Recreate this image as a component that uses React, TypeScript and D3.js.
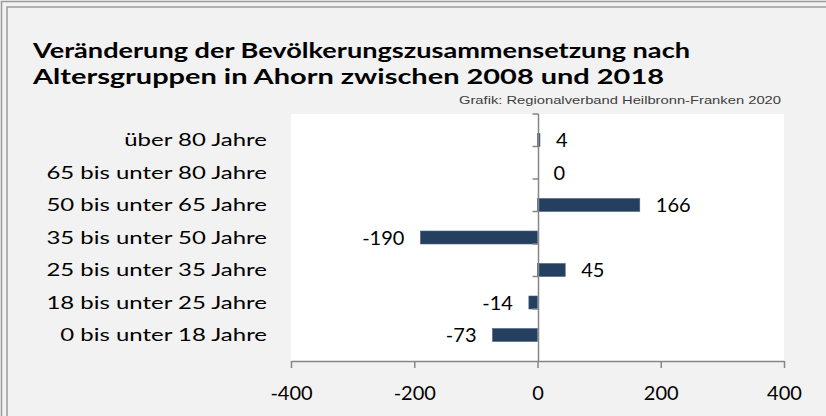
import React, { useEffect, useRef } from 'react';
import * as d3 from 'd3';

const categories = [
  'über 80 Jahre',
  '65 bis unter 80 Jahre',
  '50 bis unter 65 Jahre',
  '35 bis unter 50 Jahre',
  '25 bis unter 35 Jahre',
  '18 bis unter 25 Jahre',
  '0 bis unter 18 Jahre',
];
const changes = [4, 0, 166, -190, 45, -14, -73];
const xTicks = [-400, -200, 0, 200, 400];
const titleLines = [
  'Veränderung der Bevölkerungszusammensetzung nach',
  'Altersgruppen in Ahorn zwischen 2008 und 2018',
];
const credit = 'Grafik: Regionalverband Heilbronn-Franken 2020';

// the original export is stretched sideways, so text is widened to match
function widen(sel, k) {
  sel.each(function () {
    const w = this.getComputedTextLength();
    d3.select(this).attr('textLength', w * k).attr('lengthAdjust', 'spacingAndGlyphs');
  });
}

function App() {
  const svgRef = useRef<SVGSVGElement>(null);
  const width = 826;
  const height = 416;

  useEffect(() => {
    const svg = d3.select(svgRef.current);
    svg.selectAll('*').remove();

    const font = 'Lato, "Open Sans", sans-serif';
    const plot = { left: 291, right: 784, top: 114, bottom: 361 };

    // background + double frame on top/left
    svg.append('rect').attr('width', width).attr('height', height).attr('fill', '#f2f2f2');
    svg.append('path')
      .attr('d', `M1.5,${height} V1.5 H${width}`)
      .attr('fill', 'none').attr('stroke', '#9a9a9a').attr('stroke-width', 1.5);
    svg.append('path')
      .attr('d', `M7,${height} V7 H${width}`)
      .attr('fill', 'none').attr('stroke', '#9a9a9a').attr('stroke-width', 1.5);

    svg.append('rect')
      .attr('x', plot.left).attr('y', plot.top)
      .attr('width', plot.right - plot.left).attr('height', plot.bottom - plot.top)
      .attr('fill', '#ffffff');

    const x = d3.scaleLinear().domain([-400, 400]).range([plot.left, plot.right]);
    const y = d3.scaleBand().domain(categories).range([plot.top, plot.bottom]).padding(0.6);
    const step = y.step();

    // title
    const titleEnds = [690, 664];
    svg.append('g').selectAll('text')
      .data(titleLines)
      .enter().append('text')
      .attr('x', 33)
      .attr('y', (d, i) => 58 + i * 26)
      .attr('textLength', (d, i) => titleEnds[i] - 33)
      .attr('lengthAdjust', 'spacingAndGlyphs')
      .style('font-family', font)
      .style('font-weight', 'bold')
      .style('font-size', '21px')
      .attr('fill', '#000')
      .text(d => d);

    svg.append('text')
      .attr('x', 781).attr('y', 104)
      .attr('text-anchor', 'end')
      .style('font-family', '"Liberation Sans", Arial, sans-serif')
      .style('font-size', '11px')
      .attr('fill', '#404040')
      .text(credit)
      .call(widen, 1.34);

    // bars
    svg.append('g').selectAll('rect')
      .data(changes)
      .enter().append('rect')
      .attr('x', d => x(Math.min(0, d)))
      .attr('y', (d, i) => y(categories[i]))
      .attr('width', d => Math.abs(x(d) - x(0)))
      .attr('height', y.bandwidth())
      .attr('fill', '#243f60')
      .attr('stroke', '#4a6386')
      .attr('stroke-width', 0.6);

    // value labels
    svg.append('g').selectAll('text')
      .data(changes)
      .enter().append('text')
      .attr('x', d => (d < 0 ? x(d) - 16 : x(d) + 16))
      .attr('y', (d, i) => y(categories[i]) + y.bandwidth() / 2)
      .attr('dy', '0.36em')
      .attr('text-anchor', d => (d < 0 ? 'end' : 'start'))
      .style('font-family', font)
      .style('font-size', '20px')
      .attr('fill', '#000')
      .text(d => String(d));

    // category labels
    svg.append('g').selectAll('text')
      .data(categories)
      .enter().append('text')
      .attr('x', 267)
      .attr('y', d => y(d) + y.bandwidth() / 2)
      .attr('dy', '0.36em')
      .attr('text-anchor', 'end')
      .style('font-family', font)
      .style('font-size', '18px')
      .attr('fill', '#000')
      .text(d => d)
      .call(widen, 1.33);

    // vertical axis at 0 with ticks at band boundaries
    const axisColor = '#868686';
    const zero = Math.round(x(0)) + 0.5;
    svg.append('line')
      .attr('x1', zero).attr('x2', zero)
      .attr('y1', plot.top).attr('y2', plot.bottom)
      .attr('stroke', axisColor).attr('stroke-width', 1.5);
    svg.append('g').selectAll('line')
      .data(d3.range(categories.length))
      .enter().append('line')
      .attr('x1', zero - 6).attr('x2', zero)
      .attr('y1', i => plot.top + i * step)
      .attr('y2', i => plot.top + i * step)
      .attr('stroke', axisColor).attr('stroke-width', 1.5);

    // bottom axis
    const xAxis = svg.append('g')
      .attr('transform', `translate(0, ${plot.bottom})`)
      .call(d3.axisBottom(x).tickValues(xTicks).tickFormat(d => String(d))
        .tickSize(7).tickPadding(18).tickSizeOuter(0));
    xAxis.select('.domain').attr('stroke', axisColor).attr('stroke-width', 1.5);
    xAxis.selectAll('.tick line').attr('stroke', axisColor).attr('stroke-width', 1.5);
    xAxis.selectAll('.tick text')
      .style('font-family', font)
      .style('font-size', '20px')
      .attr('fill', '#000');
  }, []);

  return (
    <svg
      ref={svgRef}
      width={width}
      height={height}
      style={{ position: 'absolute', left: 0, top: 0, display: 'block' }}
    ></svg>
  );
}

export default App;
